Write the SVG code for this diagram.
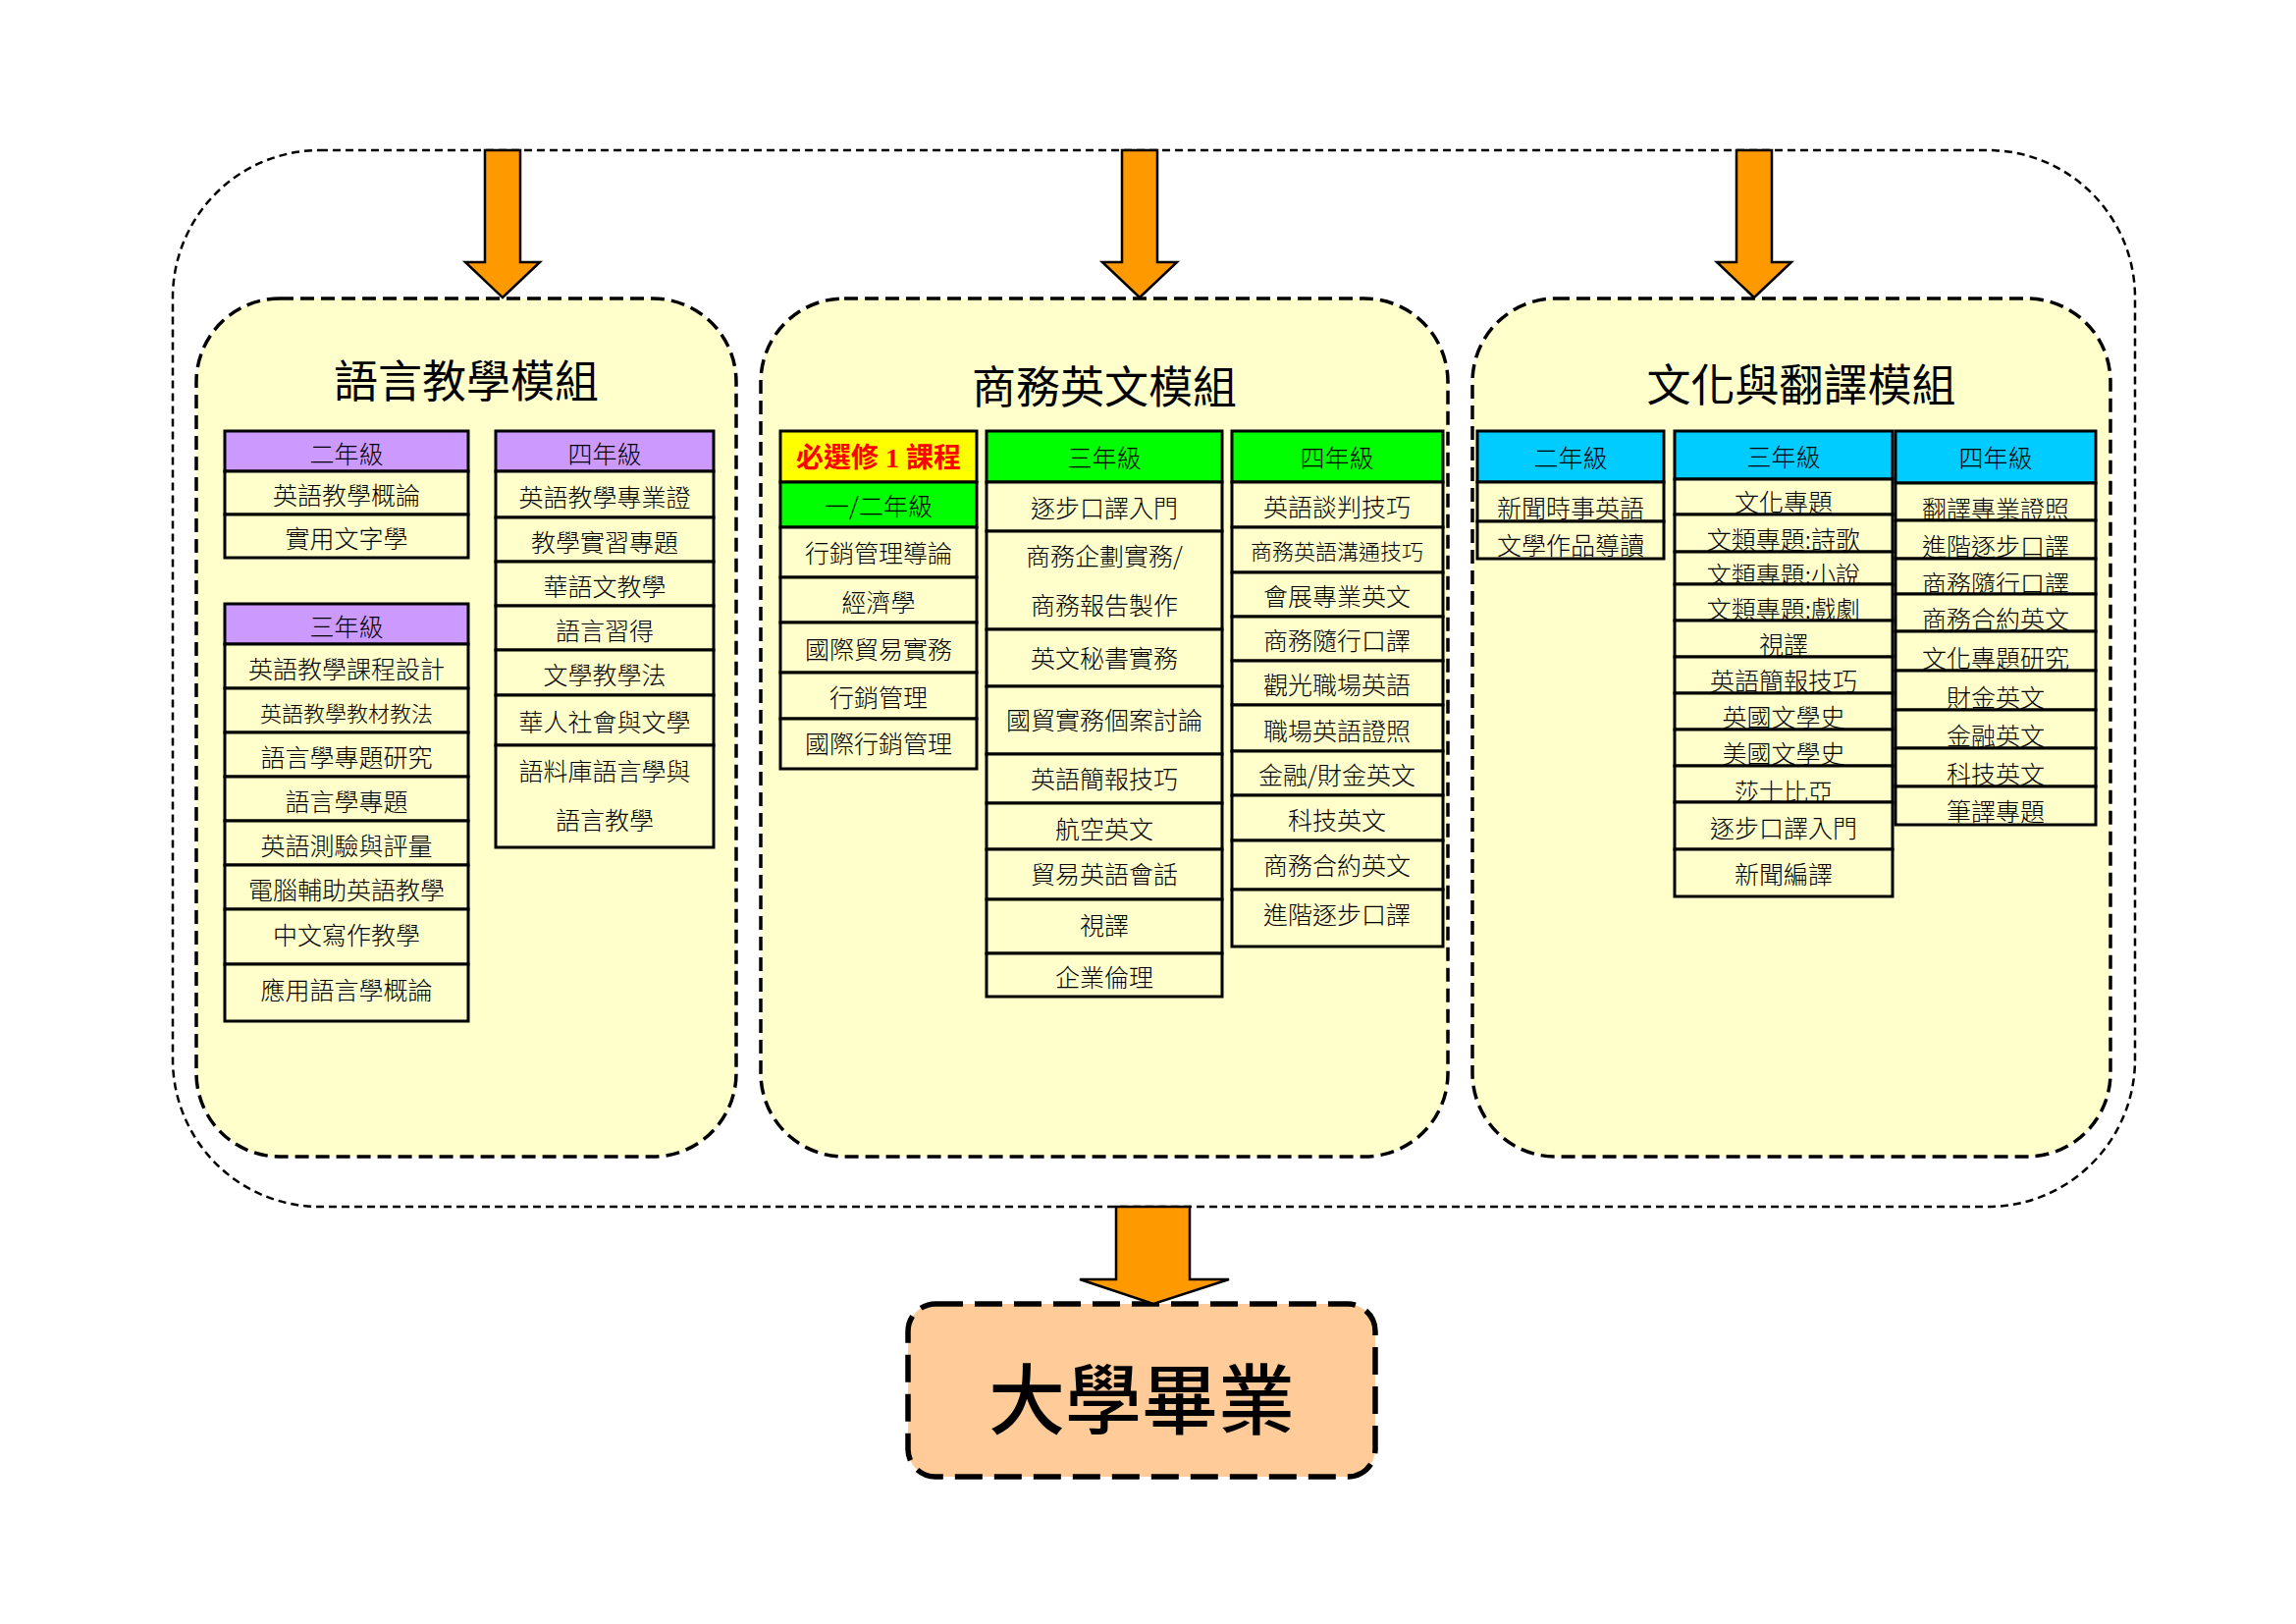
<svg xmlns="http://www.w3.org/2000/svg" width="2339" height="1654" viewBox="0 0 2339 1654">
<style>
.c{fill:#FFFFCC;stroke:#000;stroke-width:3}
.hp{fill:#CC99FF;stroke:#000;stroke-width:3}
.hg{fill:#00FF00;stroke:#000;stroke-width:3}
.hb{fill:#00CCFF;stroke:#000;stroke-width:3}
.hy{fill:#FFFF00;stroke:#000;stroke-width:3}
text{font-family:"Noto Sans CJK TC","Noto Sans CJK SC",sans-serif;text-anchor:middle;fill:#000}
.t{font-size:25px;font-weight:300}
.s{font-size:22px;font-weight:300}
.ti{font-size:45px;font-weight:400}
.red{font-size:28px;font-weight:bold;fill:#FF0000;font-family:"Liberation Serif","Noto Sans CJK TC",serif}
.mod{fill:#FFFFCC;stroke:#000;stroke-width:3.5;stroke-dasharray:14 7}
.arr{fill:#FF9900;stroke:#000;stroke-width:2.5}
</style>
<rect width="2339" height="1654" fill="#fff"/>
<g id="outer">
<rect x="176" y="153" width="1999" height="1076" rx="150" ry="150" fill="none" stroke="#000" stroke-width="2.5" stroke-dasharray="8 5"/>
</g>
<g id="module-language">
<rect class="mod" x="200" y="304" width="550" height="874" rx="85" ry="85"/>
<text class="ti" x="475" y="405">語言教學模組</text>
<g id="lang-y2">
<rect class="hp" x="229" y="439" width="248" height="41"/><text class="t" x="353" y="472">二年級</text>
<rect class="c" x="229" y="480" width="248" height="44"/><text class="t" x="353" y="514">英語教學概論</text>
<rect class="c" x="229" y="524" width="248" height="44"/><text class="t" x="353" y="558">實用文字學</text>
</g>
<g id="lang-y4">
<rect class="hp" x="505" y="439" width="222" height="41"/><text class="t" x="616" y="472">四年級</text>
<rect class="c" x="505" y="480" width="222" height="47"/><text class="t" x="616" y="516">英語教學專業證</text>
<rect class="c" x="505" y="527" width="222" height="45"/><text class="t" x="616" y="562">教學實習專題</text>
<rect class="c" x="505" y="572" width="222" height="45"/><text class="t" x="616" y="607">華語文教學</text>
<rect class="c" x="505" y="617" width="222" height="45"/><text class="t" x="616" y="652">語言習得</text>
<rect class="c" x="505" y="662" width="222" height="46"/><text class="t" x="616" y="697">文學教學法</text>
<rect class="c" x="505" y="708" width="222" height="51"/><text class="t" x="616" y="745">華人社會與文學</text>
<rect class="c" x="505" y="759" width="222" height="104"/><text class="t" x="616" y="795">語料庫語言學與</text><text class="t" x="616" y="845">語言教學</text>
</g>
<g id="lang-y3">
<rect class="hp" x="229" y="615" width="248" height="41"/><text class="t" x="353" y="648">三年級</text>
<rect class="c" x="229" y="656" width="248" height="45"/><text class="t" x="353" y="691">英語教學課程設計</text>
<rect class="c" x="229" y="701" width="248" height="45"/><text class="s" x="353" y="735">英語教學教材教法</text>
<rect class="c" x="229" y="746" width="248" height="45"/><text class="t" x="353" y="781">語言學專題研究</text>
<rect class="c" x="229" y="791" width="248" height="45"/><text class="t" x="353" y="826">語言學專題</text>
<rect class="c" x="229" y="836" width="248" height="45"/><text class="t" x="353" y="871">英語測驗與評量</text>
<rect class="c" x="229" y="881" width="248" height="45"/><text class="t" x="353" y="916">電腦輔助英語教學</text>
<rect class="c" x="229" y="926" width="248" height="56"/><text class="t" x="353" y="962">中文寫作教學</text>
<rect class="c" x="229" y="982" width="248" height="58"/><text class="t" x="353" y="1018">應用語言學概論</text>
</g>
</g>
<g id="module-business">
<rect class="mod" x="775" y="304" width="700" height="874" rx="85" ry="85"/>
<text class="ti" x="1125" y="411">商務英文模組</text>
<g id="bus-elective">
<rect class="hy" x="795" y="439" width="200" height="52"/><text class="red" x="895" y="476">必選修 1 課程</text>
<rect class="hg" x="795" y="491" width="200" height="46"/><text class="t" x="895" y="525">一/二年級</text>
<rect class="c" x="795" y="537" width="200" height="51"/><text class="t" x="895" y="573">行銷管理導論</text>
<rect class="c" x="795" y="588" width="200" height="46"/><text class="t" x="895" y="623">經濟學</text>
<rect class="c" x="795" y="634" width="200" height="51"/><text class="t" x="895" y="671">國際貿易實務</text>
<rect class="c" x="795" y="685" width="200" height="47"/><text class="t" x="895" y="720">行銷管理</text>
<rect class="c" x="795" y="732" width="200" height="51"/><text class="t" x="895" y="767">國際行銷管理</text>
</g>
<g id="bus-y3">
<rect class="hg" x="1005" y="439" width="240" height="52"/><text class="t" x="1125" y="476">三年級</text>
<rect class="c" x="1005" y="491" width="240" height="50"/><text class="t" x="1125" y="527">逐步口譯入門</text>
<rect class="c" x="1005" y="541" width="240" height="100"/><text class="t" x="1125" y="576">商務企劃實務/</text><text class="t" x="1125" y="626">商務報告製作</text>
<rect class="c" x="1005" y="641" width="240" height="58"/><text class="t" x="1125" y="680">英文秘書實務</text>
<rect class="c" x="1005" y="699" width="240" height="69"/><text class="t" x="1125" y="743">國貿實務個案討論</text>
<rect class="c" x="1005" y="768" width="240" height="50"/><text class="t" x="1125" y="803">英語簡報技巧</text>
<rect class="c" x="1005" y="818" width="240" height="47"/><text class="t" x="1125" y="854">航空英文</text>
<rect class="c" x="1005" y="865" width="240" height="51"/><text class="t" x="1125" y="900">貿易英語會話</text>
<rect class="c" x="1005" y="916" width="240" height="55"/><text class="t" x="1125" y="952">視譯</text>
<rect class="c" x="1005" y="971" width="240" height="44"/><text class="t" x="1125" y="1005">企業倫理</text>
</g>
<g id="bus-y4">
<rect class="hg" x="1255" y="439" width="215" height="52"/><text class="t" x="1362" y="476">四年級</text>
<rect class="c" x="1255" y="491" width="215" height="46"/><text class="t" x="1362" y="526">英語談判技巧</text>
<rect class="c" x="1255" y="537" width="215" height="46"/><text class="s" x="1362" y="570">商務英語溝通技巧</text>
<rect class="c" x="1255" y="583" width="215" height="45"/><text class="t" x="1362" y="617">會展專業英文</text>
<rect class="c" x="1255" y="628" width="215" height="45"/><text class="t" x="1362" y="662">商務隨行口譯</text>
<rect class="c" x="1255" y="673" width="215" height="45"/><text class="t" x="1362" y="707">觀光職場英語</text>
<rect class="c" x="1255" y="718" width="215" height="47"/><text class="t" x="1362" y="754">職場英語證照</text>
<rect class="c" x="1255" y="765" width="215" height="45"/><text class="t" x="1362" y="799">金融/財金英文</text>
<rect class="c" x="1255" y="810" width="215" height="46"/><text class="t" x="1362" y="845">科技英文</text>
<rect class="c" x="1255" y="856" width="215" height="50"/><text class="t" x="1362" y="891">商務合約英文</text>
<rect class="c" x="1255" y="906" width="215" height="58"/><text class="t" x="1362" y="941">進階逐步口譯</text>
</g>
</g>
<g id="module-culture">
<rect class="mod" x="1500" y="304" width="650" height="874" rx="85" ry="85"/>
<text class="ti" x="1835" y="409">文化與翻譯模組</text>
<g id="cul-y2">
<rect class="hb" x="1505" y="439" width="190" height="52"/><text class="t" x="1600" y="476">二年級</text>
<rect class="c" x="1505" y="491" width="190" height="40"/><text class="t" x="1600" y="527">新聞時事英語</text>
<rect class="c" x="1505" y="531" width="190" height="38"/><text class="t" x="1600" y="565">文學作品導讀</text>
</g>
<g id="cul-y3">
<rect class="hb" x="1706" y="439" width="222" height="49"/><text class="t" x="1817" y="475">三年級</text>
<rect class="c" x="1706" y="488" width="222" height="36"/><text class="t" x="1817" y="521">文化專題</text>
<rect class="c" x="1706" y="524" width="222" height="38"/><text class="t" x="1817" y="559">文類專題:詩歌</text>
<rect class="c" x="1706" y="562" width="222" height="33"/><text class="t" x="1817" y="595">文類專題:小說</text>
<rect class="c" x="1706" y="595" width="222" height="37"/><text class="t" x="1817" y="630">文類專題:戲劇</text>
<rect class="c" x="1706" y="632" width="222" height="37"/><text class="t" x="1817" y="666">視譯</text>
<rect class="c" x="1706" y="669" width="222" height="37"/><text class="t" x="1817" y="703">英語簡報技巧</text>
<rect class="c" x="1706" y="706" width="222" height="37"/><text class="t" x="1817" y="740">英國文學史</text>
<rect class="c" x="1706" y="743" width="222" height="37"/><text class="t" x="1817" y="777">美國文學史</text>
<rect class="c" x="1706" y="780" width="222" height="37"/><text class="t" x="1817" y="816">莎士比亞</text>
<rect class="c" x="1706" y="817" width="222" height="48"/><text class="t" x="1817" y="853">逐步口譯入門</text>
<rect class="c" x="1706" y="865" width="222" height="48"/><text class="t" x="1817" y="900">新聞編譯</text>
</g>
<g id="cul-y4">
<rect class="hb" x="1931" y="439" width="204" height="53"/><text class="t" x="2033" y="476">四年級</text>
<rect class="c" x="1931" y="492" width="204" height="38"/><text class="t" x="2033" y="528">翻譯專業證照</text>
<rect class="c" x="1931" y="530" width="204" height="39"/><text class="t" x="2033" y="566">進階逐步口譯</text>
<rect class="c" x="1931" y="569" width="204" height="36"/><text class="t" x="2033" y="604">商務隨行口譯</text>
<rect class="c" x="1931" y="605" width="204" height="38"/><text class="t" x="2033" y="640">商務合約英文</text>
<rect class="c" x="1931" y="643" width="204" height="40"/><text class="t" x="2033" y="680">文化專題研究</text>
<rect class="c" x="1931" y="683" width="204" height="40"/><text class="t" x="2033" y="720">財金英文</text>
<rect class="c" x="1931" y="723" width="204" height="39"/><text class="t" x="2033" y="759">金融英文</text>
<rect class="c" x="1931" y="762" width="204" height="39"/><text class="t" x="2033" y="798">科技英文</text>
<rect class="c" x="1931" y="801" width="204" height="39"/><text class="t" x="2033" y="836">筆譯專題</text>
</g>
</g>
<g id="graduation">
<rect x="925" y="1328" width="476" height="176" rx="28" ry="28" fill="#FFCC99" stroke="#000" stroke-width="5.5" stroke-dasharray="28 12"/>
<text x="1163" y="1455" style="font-size:78px;font-weight:500">大學畢業</text>
</g>
<g id="connectors">
<polygon class="arr" points="494,153 530,153 530,267 550,267 512,303 474,267 494,267"/>
<polygon class="arr" points="1143,153 1179,153 1179,267 1199,267 1161,303 1123,267 1143,267"/>
<polygon class="arr" points="1769,153 1805,153 1805,267 1825,267 1787,303 1749,267 1769,267"/>
<polygon class="arr" points="1137,1229 1212,1229 1212,1303 1252,1303 1175,1328 1100,1303 1137,1303"/>
</g>
</svg>
